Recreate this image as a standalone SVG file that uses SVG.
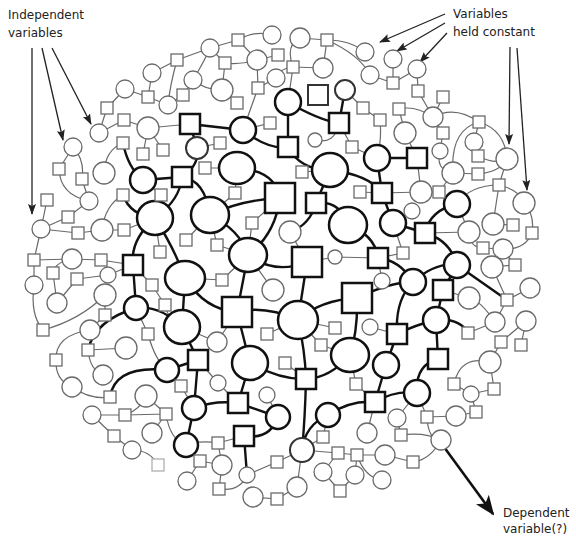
<svg xmlns="http://www.w3.org/2000/svg" width="576" height="538" viewBox="0 0 576 538">
<style>
.k{fill:none;stroke:#111;stroke-width:2.4;stroke-linecap:round}
.t{fill:none;stroke:#6a6a6a;stroke-width:1.2}
.a{fill:none;stroke:#222;stroke-width:1.3}
.ab{fill:none;stroke:#111;stroke-width:2.6}
.nk{fill:#fff;stroke:#111;stroke-width:2.5}
.nm{fill:#fff;stroke:#333;stroke-width:2}
.nt{fill:#fff;stroke:#6a6a6a;stroke-width:1.3}
.nf{fill:#fff;stroke:#b0b0b0;stroke-width:1.3}
text{font-family:"DejaVu Sans","Liberation Sans",sans-serif;font-size:12px;fill:#222}
</style>
<defs>
<marker id="ah" markerUnits="userSpaceOnUse" markerWidth="11" markerHeight="8" refX="10" refY="4" orient="auto"><path d="M0,0 L11,4 L0,8 L2,4 z" fill="#222"/></marker>
<marker id="ahb" markerUnits="userSpaceOnUse" markerWidth="20" markerHeight="16" refX="18" refY="8" orient="auto"><path d="M0,0 L20,8 L0,16 L5,8 z" fill="#111"/></marker>
</defs>
<rect width="576" height="538" fill="#fff"/>
<g id="connectors">
<g id="thin-edges">
<path class="t" d="M210,48 L177,60 M177,60 L152,73 M177,60 Q170,85 168,105 M152,73 L148,97 M193,80 L183,95 M193,80 Q205,60 210,48 M148,97 L125,89 M125,89 L107,108 M168,105 L148,97 M183,95 L168,105 M107,108 L99,133 M99,133 L124,120 M124,120 L148,128 M148,128 L190,124 M148,128 L143,154 M163,150 L148,128 M123,143 Q105,150 104,173 M73,147 L59,169 M73,147 Q85,160 82,179 M59,169 Q60,195 89,201 M82,179 L89,201 M89,201 L68,217 M68,217 L41,229 M47,200 L41,229 M41,229 L34,260 M41,229 L78,233 M78,233 L102,230 M102,230 L124,230 M102,230 Q105,205 123,195 M124,230 L155,218 M160,252 L155,218 M186,240 L210,215"/>
<path class="t" d="M34,260 L72,259 M72,259 L101,260 M101,260 L133,265 M72,259 Q55,262 53,273 M53,273 L57,303 M77,279 L57,303 M34,260 L34,285 M34,285 Q30,315 43,330 M77,279 L108,275 M108,275 L133,265 M105,295 L105,315 M105,295 Q80,320 43,330 M105,315 L90,330 M152,285 L165,305 M152,285 L133,265 M165,305 Q168,320 182,327 M88,350 L126,348 M88,350 Q90,370 103,375 M56,360 Q55,335 90,330 M148,334 L136,308 M148,334 Q155,360 167,370 M56,360 Q55,380 72,387 M72,387 Q90,400 110,397 M146,396 L166,414 M181,386 L167,370 M181,386 L194,408 M92,415 L125,415 M125,415 L166,414 M125,415 Q140,410 146,396 M92,415 L114,436 M114,436 L132,450 M132,450 Q150,450 158,465 M166,414 L152,433 M166,414 Q170,440 186,445 M200,461 L187,481 M186,445 L200,461 M186,445 Q200,440 218,443"/>
<path class="t" d="M210,48 L238,40 M238,40 Q255,30 272,35 M238,40 L257,60 M257,60 L278,55 M300,38 Q285,45 293,67 M300,38 L327,40 M327,40 L323,68 M327,40 Q350,40 365,52 M327,40 Q360,55 370,75 M293,67 L323,68 M293,67 L288,102 M293,67 Q280,68 276,78 M257,60 L258,88 M225,63 L210,48 M225,63 Q240,65 257,60 M225,63 L222,90 M222,90 L237,103 M222,90 Q205,90 193,80 M258,88 L243,130 M276,78 L258,88 M270,123 L243,130 M315,140 Q335,145 339,123 M220,143 L197,148 M205,168 L237,168 M352,147 L339,123 M352,147 L377,158 M302,172 L330,170 M360,192 L382,193 M235,193 L237,168 M235,193 L210,215 M252,223 L248,255 M252,223 L280,198 M217,245 L248,255 M217,245 L210,215 M290,232 L307,262 M335,257 L307,262 M335,257 L378,258 M345,90 L363,108 M363,108 L380,120 M380,120 Q382,140 377,158"/>
<path class="t" d="M370,75 L393,83 M393,59 L393,83 M393,83 L417,69 M417,69 L418,91 M418,91 L433,117 M443,97 L433,117 M399,109 Q415,105 433,117 M399,109 L405,133 M433,117 L443,133 M443,133 L440,151 M433,117 Q455,105 479,122 M479,122 L474,142 M474,142 L478,156 M479,122 Q505,130 507,159 M405,133 L417,158 M478,156 Q495,165 507,159 M440,151 Q435,170 453,173 M453,173 L478,174 M478,174 Q500,172 507,159 M453,173 Q450,130 479,122 M421,192 L439,192 M439,192 L453,173 M382,193 L421,192 M417,158 L421,192 M412,211 L393,223 M499,185 L507,159 M499,185 L493,224 M499,185 Q470,185 457,204 M524,203 Q520,190 499,185 M524,203 Q535,215 532,233 M493,224 L513,225 M469,232 L457,204 M469,232 Q470,248 483,248 M469,232 L425,233 M483,248 L503,249 M503,249 Q525,250 532,233 M503,249 L515,265 M403,253 L393,223 M403,253 L378,258 M492,267 L515,265 M492,267 L507,300 M530,288 L507,300 M469,298 L443,290 M469,298 Q480,300 495,322 M507,300 L495,322 M526,321 L521,345 M526,321 L501,342 M495,322 L468,333"/>
<path class="t" d="M490,362 L501,342 M490,362 Q460,355 454,384 M490,362 L494,389 M494,389 L471,394 M471,394 L454,384 M471,394 L476,412 M456,416 L476,412 M456,416 L427,417 M427,417 L417,393 M397,418 L417,393 M397,418 L401,435 M401,435 Q425,432 441,440 M427,417 Q428,440 441,440 M441,440 Q430,460 413,462 M413,462 L385,455 M385,455 L357,455 M367,433 L375,402 M382,480 Q365,478 357,455 M338,453 L323,472 M338,453 L357,455 M338,453 L302,450 M323,437 L328,415 M323,437 L302,450 M355,475 L357,455 M355,475 L340,491 M340,491 L323,472 M277,462 L302,450 M247,475 L277,462 M253,497 L277,499 M277,499 L297,487 M297,487 L302,450 M222,465 L200,461 M222,465 L218,443 M222,465 L219,489 M219,489 Q240,492 247,475 M218,443 L244,436 M218,383 L238,403 M218,383 L198,360 M267,395 L278,417 M285,363 L306,379 M321,345 L298,320 M321,345 L350,355 M335,328 L298,320 M356,384 L350,355 M356,384 L375,402 M370,327 L397,334 M382,281 L378,258 M273,290 L248,255 M222,280 L185,278 M222,280 L248,255 M267,334 L298,320 M217,342 L237,312 M217,342 L182,327 M161,195 L143,180"/>
</g>
<g id="thick-edges">
<path class="k" d="M190,124 L243,130 M243,130 Q268,150 288,147 M288,102 L288,147 M288,102 Q318,120 339,123 M339,123 L345,90 M190,124 L197,148 M197,148 Q200,165 182,177 M143,180 L182,177 M123,143 Q128,168 143,180 M182,177 Q205,180 210,215 M182,177 Q180,200 155,218 M237,168 Q275,170 280,198 M210,215 Q240,200 280,198 M280,198 Q275,235 248,255 M288,147 Q300,170 330,170 M330,170 Q370,175 382,193 M377,158 L382,193 M316,203 Q340,200 348,225 M316,203 Q310,225 290,232 M330,170 L316,203 M348,225 Q375,235 378,258 M378,258 Q400,260 413,282 M413,282 Q435,262 457,265 M457,265 L443,290 M443,290 L436,320 M436,320 Q415,325 397,334 M436,320 L438,359 M436,320 Q460,318 468,333 M413,282 Q395,300 397,334 M438,359 Q415,365 417,393 M417,393 Q395,390 375,402 M397,334 L386,365 M386,365 L375,402"/>
<path class="k" d="M357,298 Q320,300 298,320 M357,298 Q390,282 413,282 M357,298 Q358,330 350,355 M298,320 L307,262 M298,320 Q265,305 237,312 M298,320 Q305,350 306,379 M307,262 Q275,275 248,255 M237,312 L250,363 M237,312 Q205,310 185,278 M237,312 L248,255 M250,363 Q280,380 306,379 M306,379 Q330,378 350,355 M306,379 Q305,420 302,450 M375,402 Q350,400 328,415 M328,415 Q305,425 302,450 M238,403 L278,417 M238,403 L250,363 M238,403 Q215,400 194,408 M244,436 Q270,440 278,417 M244,436 L247,475 M194,408 L186,445 M182,327 L198,360 M182,327 L185,278 M182,327 Q160,305 136,308 M136,308 L133,265 M136,308 Q95,320 88,350 M167,370 L198,360 M167,370 Q115,365 110,397 M198,360 L194,408 M155,218 Q175,250 185,278 M155,218 Q130,240 133,265 M123,195 Q130,215 155,218 M210,215 Q240,230 248,255 M393,223 L382,193 M393,223 L425,233 M425,233 Q450,240 457,265 M417,158 L377,158 M457,204 Q430,210 425,233 M457,265 L507,300"/>
</g>
<g id="arrows">
<path class="a" d="M32,48 L32,214" marker-end="url(#ah)"/>
<path class="a" d="M42,48 L63,140" marker-end="url(#ah)"/>
<path class="a" d="M52,48 L91,124" marker-end="url(#ah)"/>
<path class="a" d="M445,14 L380,42" marker-end="url(#ah)"/>
<path class="a" d="M445,23 L397,51" marker-end="url(#ah)"/>
<path class="a" d="M447,33 L420,62" marker-end="url(#ah)"/>
<path class="a" d="M510,47 L509,144" marker-end="url(#ah)"/>
<path class="a" d="M517,48 L527,190" marker-end="url(#ah)"/>
<path class="ab" d="M444,447 L493,514" marker-end="url(#ahb)"/>
</g>
</g>
<g id="nodes">
<g id="b1"><ellipse class="nk" cx="237" cy="168" rx="18" ry="16"/></g>
<g id="b2"><ellipse class="nk" cx="330" cy="170" rx="18" ry="17"/></g>
<g id="b3"><ellipse class="nk" cx="155" cy="218" rx="18" ry="17"/></g>
<g id="b4"><ellipse class="nk" cx="210" cy="215" rx="19" ry="18"/></g>
<g id="b5"><ellipse class="nk" cx="348" cy="225" rx="19" ry="18"/></g>
<g id="b6"><ellipse class="nk" cx="248" cy="255" rx="19" ry="17"/></g>
<g id="b7"><ellipse class="nk" cx="185" cy="278" rx="20" ry="17"/></g>
<g id="b8"><ellipse class="nk" cx="298" cy="320" rx="20" ry="19"/></g>
<g id="b9"><ellipse class="nk" cx="182" cy="327" rx="18" ry="17"/></g>
<g id="b10"><ellipse class="nk" cx="250" cy="363" rx="18" ry="17"/></g>
<g id="b11"><ellipse class="nk" cx="350" cy="355" rx="19" ry="17"/></g>
<g id="bs1"><rect class="nk" x="265" y="183" width="30" height="30"/></g>
<g id="bs2"><rect class="nk" x="292" y="247" width="30" height="30"/></g>
<g id="bs3"><rect class="nk" x="342" y="283" width="30" height="30"/></g>
<g id="bs4"><rect class="nk" x="222" y="297" width="30" height="30"/></g>
<g id="ms1"><rect class="nk" x="180" y="114" width="20" height="20"/></g>
<g id="ms2"><rect class="nk" x="278" y="137" width="20" height="20"/></g>
<g id="ms3"><rect class="nk" x="329" y="113" width="20" height="20"/></g>
<g id="ms4"><rect class="nk" x="172" y="167" width="20" height="20"/></g>
<g id="ms5"><rect class="nk" x="306" y="193" width="20" height="20"/></g>
<g id="ms6"><rect class="nk" x="372" y="183" width="20" height="20"/></g>
<g id="ms7"><rect class="nk" x="368" y="248" width="20" height="20"/></g>
<g id="ms8"><rect class="nk" x="433" y="280" width="20" height="20"/></g>
<g id="ms9"><rect class="nk" x="387" y="324" width="20" height="20"/></g>
<g id="ms10"><rect class="nk" x="428" y="349" width="20" height="20"/></g>
<g id="ms11"><rect class="nk" x="296" y="369" width="20" height="20"/></g>
<g id="ms12"><rect class="nk" x="365" y="392" width="20" height="20"/></g>
<g id="ms13"><rect class="nk" x="228" y="393" width="20" height="20"/></g>
<g id="ms14"><rect class="nk" x="234" y="426" width="20" height="20"/></g>
<g id="ms15"><rect class="nk" x="188" y="350" width="20" height="20"/></g>
<g id="ms16"><rect class="nk" x="123" y="255" width="20" height="20"/></g>
<g id="ms17"><rect class="nk" x="407" y="148" width="20" height="20"/></g>
<g id="ms18"><rect class="nk" x="415" y="223" width="20" height="20"/></g>
<g id="ms19"><rect class="nm" x="308" y="85" width="20" height="20"/></g>
<g id="m1"><circle class="nk" cx="243" cy="130" r="13"/></g>
<g id="m2"><circle class="nk" cx="288" cy="102" r="13"/></g>
<g id="m3"><circle class="nk" cx="377" cy="158" r="13"/></g>
<g id="m4"><circle class="nk" cx="143" cy="180" r="13"/></g>
<g id="m5"><circle class="nk" cx="413" cy="282" r="13"/></g>
<g id="m6"><circle class="nk" cx="457" cy="265" r="13"/></g>
<g id="m7"><circle class="nk" cx="436" cy="320" r="13"/></g>
<g id="m8"><circle class="nk" cx="386" cy="365" r="13"/></g>
<g id="m9"><circle class="nk" cx="417" cy="393" r="13"/></g>
<g id="m10"><circle class="nk" cx="278" cy="417" r="12"/></g>
<g id="m11"><circle class="nk" cx="328" cy="415" r="12"/></g>
<g id="m12"><circle class="nk" cx="194" cy="408" r="12"/></g>
<g id="m13"><circle class="nk" cx="186" cy="445" r="12"/></g>
<g id="m14"><circle class="nk" cx="136" cy="308" r="12"/></g>
<g id="m15"><circle class="nk" cx="167" cy="370" r="12"/></g>
<g id="m16"><circle class="nk" cx="393" cy="223" r="13"/></g>
<g id="m17"><circle class="nk" cx="457" cy="204" r="13"/></g>
<g id="m18"><circle class="nm" cx="197" cy="148" r="11"/></g>
<g id="m19"><circle class="nm" cx="302" cy="450" r="12"/></g>
<g id="c1"><circle class="nt" cx="210" cy="48" r="9"/></g>
<g id="c2"><circle class="nt" cx="152" cy="73" r="9"/></g>
<g id="c3"><circle class="nt" cx="193" cy="80" r="9"/></g>
<g id="c4"><circle class="nt" cx="125" cy="89" r="9"/></g>
<g id="c5"><circle class="nt" cx="168" cy="105" r="9"/></g>
<g id="c6"><circle class="nt" cx="99" cy="133" r="9"/></g>
<g id="c7"><circle class="nt" cx="148" cy="128" r="11"/></g>
<g id="c8"><circle class="nt" cx="73" cy="147" r="9"/></g>
<g id="c9"><circle class="nt" cx="104" cy="173" r="11"/></g>
<g id="c10"><circle class="nt" cx="89" cy="201" r="9"/></g>
<g id="c11"><circle class="nt" cx="41" cy="229" r="9"/></g>
<g id="c12"><circle class="nt" cx="102" cy="230" r="11"/></g>
<g id="c13"><circle class="nt" cx="72" cy="259" r="10"/></g>
<g id="c14"><circle class="nt" cx="272" cy="35" r="9"/></g>
<g id="c15"><circle class="nt" cx="300" cy="38" r="10"/></g>
<g id="c16"><circle class="nt" cx="365" cy="52" r="9"/></g>
<g id="c17"><circle class="nt" cx="257" cy="60" r="10"/></g>
<g id="c18"><circle class="nt" cx="323" cy="68" r="10"/></g>
<g id="c19"><circle class="nt" cx="370" cy="75" r="9"/></g>
<g id="c20"><circle class="nt" cx="276" cy="78" r="9"/></g>
<g id="c21"><circle class="nt" cx="222" cy="90" r="11"/></g>
<g id="c22"><circle class="nt" cx="315" cy="140" r="7"/></g>
<g id="c23"><circle class="nt" cx="290" cy="232" r="11"/></g>
<g id="c24"><circle class="nt" cx="335" cy="257" r="7"/></g>
<g id="c25"><circle class="nt" cx="393" cy="59" r="9"/></g>
<g id="c26"><circle class="nt" cx="417" cy="69" r="9"/></g>
<g id="c27"><circle class="nt" cx="433" cy="117" r="10"/></g>
<g id="c28"><circle class="nt" cx="405" cy="133" r="11"/></g>
<g id="c29"><circle class="nt" cx="474" cy="142" r="9"/></g>
<g id="c30"><circle class="nt" cx="440" cy="151" r="8"/></g>
<g id="c31"><circle class="nt" cx="507" cy="159" r="11"/></g>
<g id="c32"><circle class="nt" cx="453" cy="173" r="11"/></g>
<g id="c33"><circle class="nt" cx="421" cy="192" r="11"/></g>
<g id="c34"><circle class="nt" cx="412" cy="211" r="8"/></g>
<g id="c35"><circle class="nt" cx="524" cy="203" r="11"/></g>
<g id="c36"><circle class="nt" cx="493" cy="224" r="11"/></g>
<g id="c37"><circle class="nt" cx="469" cy="232" r="11"/></g>
<g id="c38"><circle class="nt" cx="503" cy="249" r="10"/></g>
<g id="c39"><circle class="nt" cx="492" cy="267" r="11"/></g>
<g id="c40"><circle class="nt" cx="530" cy="288" r="10"/></g>
<g id="c41"><circle class="nt" cx="469" cy="298" r="11"/></g>
<g id="c42"><circle class="nt" cx="495" cy="322" r="10"/></g>
<g id="c43"><circle class="nt" cx="526" cy="321" r="10"/></g>
<g id="c44"><circle class="nt" cx="490" cy="362" r="11"/></g>
<g id="c45"><circle class="nt" cx="471" cy="394" r="8"/></g>
<g id="c46"><circle class="nt" cx="456" cy="416" r="10"/></g>
<g id="c47"><circle class="nt" cx="397" cy="418" r="9"/></g>
<g id="c48"><circle class="nt" cx="441" cy="440" r="10"/></g>
<g id="c49"><circle class="nt" cx="385" cy="455" r="10"/></g>
<g id="c50"><circle class="nt" cx="382" cy="480" r="9"/></g>
<g id="c51"><circle class="nt" cx="367" cy="433" r="10"/></g>
<g id="c52"><circle class="nt" cx="273" cy="290" r="11"/></g>
<g id="c53"><circle class="nt" cx="217" cy="342" r="10"/></g>
<g id="c54"><circle class="nt" cx="218" cy="383" r="8"/></g>
<g id="c55"><circle class="nt" cx="267" cy="395" r="8"/></g>
<g id="c56"><circle class="nt" cx="222" cy="465" r="10"/></g>
<g id="c57"><circle class="nt" cx="247" cy="475" r="8"/></g>
<g id="c58"><circle class="nt" cx="323" cy="472" r="9"/></g>
<g id="c59"><circle class="nt" cx="355" cy="475" r="9"/></g>
<g id="c60"><circle class="nt" cx="253" cy="497" r="10"/></g>
<g id="c61"><circle class="nt" cx="297" cy="487" r="10"/></g>
<g id="c62"><circle class="nt" cx="34" cy="285" r="9"/></g>
<g id="c63"><circle class="nt" cx="108" cy="275" r="8"/></g>
<g id="c64"><circle class="nt" cx="105" cy="295" r="11"/></g>
<g id="c65"><circle class="nt" cx="57" cy="303" r="10"/></g>
<g id="c66"><circle class="nt" cx="90" cy="330" r="10"/></g>
<g id="c67"><circle class="nt" cx="126" cy="348" r="11"/></g>
<g id="c68"><circle class="nt" cx="103" cy="375" r="10"/></g>
<g id="c69"><circle class="nt" cx="72" cy="387" r="10"/></g>
<g id="c70"><circle class="nt" cx="146" cy="396" r="11"/></g>
<g id="c71"><circle class="nt" cx="92" cy="415" r="9"/></g>
<g id="c72"><circle class="nt" cx="152" cy="433" r="10"/></g>
<g id="c73"><circle class="nt" cx="132" cy="450" r="9"/></g>
<g id="c74"><circle class="nt" cx="187" cy="481" r="9"/></g>
<g id="c75"><circle class="nt" cx="382" cy="281" r="8"/></g>
<g id="c76"><circle class="nt" cx="370" cy="327" r="8"/></g>
<g id="c77"><circle class="nm" cx="345" cy="90" r="10"/></g>
<g id="s1"><rect class="nt" x="171" y="54" width="12" height="12"/></g>
<g id="s2"><rect class="nt" x="177" y="89" width="12" height="12"/></g>
<g id="s3"><rect class="nt" x="142" y="91" width="12" height="12"/></g>
<g id="s4"><rect class="nt" x="101" y="102" width="12" height="12"/></g>
<g id="s5"><rect class="nt" x="118" y="114" width="12" height="12"/></g>
<g id="s6"><rect class="nt" x="117" y="137" width="12" height="12"/></g>
<g id="s7"><rect class="nt" x="137" y="148" width="12" height="12"/></g>
<g id="s8"><rect class="nt" x="157" y="144" width="12" height="12"/></g>
<g id="s9"><rect class="nt" x="53" y="163" width="12" height="12"/></g>
<g id="s10"><rect class="nt" x="76" y="173" width="12" height="12"/></g>
<g id="s11"><rect class="nt" x="199" y="162" width="12" height="12"/></g>
<g id="s12"><rect class="nt" x="117" y="189" width="12" height="12"/></g>
<g id="s13"><rect class="nt" x="155" y="189" width="12" height="12"/></g>
<g id="s14"><rect class="nt" x="41" y="194" width="12" height="12"/></g>
<g id="s15"><rect class="nt" x="62" y="211" width="12" height="12"/></g>
<g id="s16"><rect class="nt" x="72" y="227" width="12" height="12"/></g>
<g id="s17"><rect class="nt" x="118" y="224" width="12" height="12"/></g>
<g id="s18"><rect class="nt" x="180" y="234" width="12" height="12"/></g>
<g id="s19"><rect class="nt" x="154" y="246" width="12" height="12"/></g>
<g id="s20"><rect class="nt" x="28" y="254" width="12" height="12"/></g>
<g id="s21"><rect class="nt" x="95" y="254" width="12" height="12"/></g>
<g id="s22"><rect class="nt" x="232" y="34" width="12" height="12"/></g>
<g id="s23"><rect class="nt" x="321" y="34" width="12" height="12"/></g>
<g id="s24"><rect class="nt" x="272" y="49" width="12" height="12"/></g>
<g id="s25"><rect class="nt" x="219" y="57" width="12" height="12"/></g>
<g id="s26"><rect class="nt" x="287" y="61" width="12" height="12"/></g>
<g id="s27"><rect class="nt" x="252" y="82" width="12" height="12"/></g>
<g id="s28"><rect class="nt" x="231" y="97" width="12" height="12"/></g>
<g id="s29"><rect class="nt" x="357" y="102" width="12" height="12"/></g>
<g id="s30"><rect class="nt" x="374" y="114" width="12" height="12"/></g>
<g id="s31"><rect class="nt" x="264" y="117" width="12" height="12"/></g>
<g id="s32"><rect class="nt" x="214" y="137" width="12" height="12"/></g>
<g id="s33"><rect class="nt" x="346" y="141" width="12" height="12"/></g>
<g id="s34"><rect class="nt" x="296" y="166" width="12" height="12"/></g>
<g id="s35"><rect class="nt" x="354" y="186" width="12" height="12"/></g>
<g id="s36"><rect class="nt" x="229" y="187" width="12" height="12"/></g>
<g id="s37"><rect class="nt" x="246" y="217" width="12" height="12"/></g>
<g id="s38"><rect class="nt" x="211" y="239" width="12" height="12"/></g>
<g id="s39"><rect class="nt" x="387" y="77" width="12" height="12"/></g>
<g id="s40"><rect class="nt" x="412" y="85" width="12" height="12"/></g>
<g id="s41"><rect class="nt" x="437" y="91" width="12" height="12"/></g>
<g id="s42"><rect class="nt" x="393" y="103" width="12" height="12"/></g>
<g id="s43"><rect class="nt" x="473" y="116" width="12" height="12"/></g>
<g id="s44"><rect class="nt" x="437" y="127" width="12" height="12"/></g>
<g id="s45"><rect class="nt" x="472" y="150" width="12" height="12"/></g>
<g id="s46"><rect class="nt" x="472" y="168" width="12" height="12"/></g>
<g id="s47"><rect class="nt" x="433" y="186" width="12" height="12"/></g>
<g id="s48"><rect class="nt" x="493" y="179" width="12" height="12"/></g>
<g id="s49"><rect class="nt" x="507" y="219" width="12" height="12"/></g>
<g id="s50"><rect class="nt" x="526" y="227" width="12" height="12"/></g>
<g id="s51"><rect class="nt" x="477" y="242" width="12" height="12"/></g>
<g id="s52"><rect class="nt" x="397" y="247" width="12" height="12"/></g>
<g id="s53"><rect class="nt" x="509" y="259" width="12" height="12"/></g>
<g id="s54"><rect class="nt" x="501" y="294" width="12" height="12"/></g>
<g id="s55"><rect class="nt" x="462" y="327" width="12" height="12"/></g>
<g id="s56"><rect class="nt" x="495" y="336" width="12" height="12"/></g>
<g id="s57"><rect class="nt" x="515" y="339" width="12" height="12"/></g>
<g id="s58"><rect class="nt" x="448" y="378" width="12" height="12"/></g>
<g id="s59"><rect class="nt" x="488" y="383" width="12" height="12"/></g>
<g id="s60"><rect class="nt" x="470" y="406" width="12" height="12"/></g>
<g id="s61"><rect class="nt" x="421" y="411" width="12" height="12"/></g>
<g id="s62"><rect class="nt" x="395" y="429" width="12" height="12"/></g>
<g id="s63"><rect class="nt" x="407" y="456" width="12" height="12"/></g>
<g id="s64"><rect class="nt" x="329" y="322" width="12" height="12"/></g>
<g id="s65"><rect class="nt" x="315" y="339" width="12" height="12"/></g>
<g id="s66"><rect class="nt" x="279" y="357" width="12" height="12"/></g>
<g id="s67"><rect class="nt" x="350" y="378" width="12" height="12"/></g>
<g id="s68"><rect class="nt" x="216" y="274" width="12" height="12"/></g>
<g id="s69"><rect class="nt" x="261" y="328" width="12" height="12"/></g>
<g id="s70"><rect class="nt" x="317" y="431" width="12" height="12"/></g>
<g id="s71"><rect class="nt" x="332" y="447" width="12" height="12"/></g>
<g id="s72"><rect class="nt" x="351" y="449" width="12" height="12"/></g>
<g id="s73"><rect class="nt" x="194" y="455" width="12" height="12"/></g>
<g id="s74"><rect class="nt" x="271" y="456" width="12" height="12"/></g>
<g id="s75"><rect class="nt" x="213" y="483" width="12" height="12"/></g>
<g id="s76"><rect class="nt" x="271" y="493" width="12" height="12"/></g>
<g id="s77"><rect class="nt" x="334" y="485" width="12" height="12"/></g>
<g id="s78"><rect class="nt" x="212" y="437" width="12" height="12"/></g>
<g id="s79"><rect class="nt" x="47" y="267" width="12" height="12"/></g>
<g id="s80"><rect class="nt" x="71" y="273" width="12" height="12"/></g>
<g id="s81"><rect class="nt" x="146" y="279" width="12" height="12"/></g>
<g id="s82"><rect class="nt" x="159" y="299" width="12" height="12"/></g>
<g id="s83"><rect class="nt" x="37" y="324" width="12" height="12"/></g>
<g id="s84"><rect class="nt" x="142" y="328" width="12" height="12"/></g>
<g id="s85"><rect class="nt" x="82" y="344" width="12" height="12"/></g>
<g id="s86"><rect class="nt" x="50" y="354" width="12" height="12"/></g>
<g id="s87"><rect class="nt" x="175" y="380" width="12" height="12"/></g>
<g id="s88"><rect class="nt" x="104" y="391" width="12" height="12"/></g>
<g id="s89"><rect class="nt" x="119" y="409" width="12" height="12"/></g>
<g id="s90"><rect class="nt" x="160" y="408" width="12" height="12"/></g>
<g id="s91"><rect class="nt" x="108" y="430" width="12" height="12"/></g>
<g id="s92"><rect class="nf" x="152" y="459" width="12" height="12"/></g>
<g id="s93"><rect class="nt" x="99" y="309" width="12" height="12"/></g>
</g>
<g id="labels">
<text x="8" y="19">Independent</text>
<text x="8" y="37">variables</text>
<text x="453" y="18">Variables</text>
<text x="453" y="36">held constant</text>
<text x="503" y="517">Dependent</text>
<text x="503" y="533">variable(?)</text>
</g>
</svg>
